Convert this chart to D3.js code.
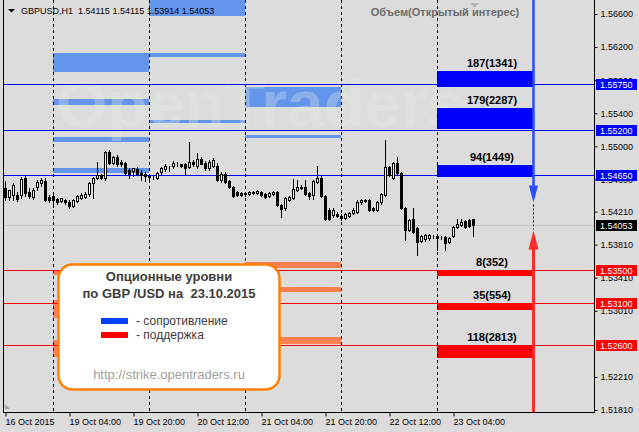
<!DOCTYPE html>
<html>
<head>
<meta charset="utf-8">
<script src="https://cdn.jsdelivr.net/npm/d3@7/dist/d3.min.js"></script>
<style>
body { margin: 0; background: #dcdcdc; }
svg { display: block; }
</style>
</head>
<body>
<div id="chart"></div>
<script>
// GBPUSD H1, bars from 16 Oct 2015 12:00 to 23 Oct 2015 09:00
var opens = [1.5450,1.5439,1.5441,1.5441,1.5441,1.5462,1.5445,1.5439,1.5451,1.5455,1.5458,1.5439,
  1.5440,1.5436,1.5434,1.5435,1.5433,1.5428,1.5434,1.5438,1.5439,1.5442,1.5456,1.5462,
  1.5465,1.5462,1.5493,1.5480,1.5487,1.5481,1.5480,1.5471,1.5470,1.5473,1.5468,1.5467,
  1.5464,1.5463,1.5462,1.5469,1.5473,1.5474,1.5476,1.5479,1.5478,1.5478,1.5475,1.5481,
  1.5476,1.5485,1.5480,1.5474,1.5476,1.5476,1.5459,1.5467,1.5458,1.5451,1.5445,1.5444,
  1.5442,1.5442,1.5444,1.5444,1.5445,1.5442,1.5440,1.5442,1.5445,1.5429,1.5425,1.5435,
  1.5438,1.5447,1.5450,1.5451,1.5444,1.5441,1.5457,1.5462,1.5440,1.5423,1.5417,1.5418,
  1.5416,1.5413,1.5416,1.5419,1.5421,1.5432,1.5434,1.5435,1.5425,1.5423,1.5432,1.5441,
  1.5475,1.5462,1.5480,1.5468,1.5425,1.5399,1.5412,1.5401,1.5386,1.5388,1.5389,1.5392,
  1.5392,1.5390,1.5390,1.5384,1.5392,1.5402,1.5405,1.5410,1.5411,1.54115];
var highs = [1.5458,1.5447,1.5456,1.5445,1.5463,1.5464,1.5450,1.5450,1.5459,1.5462,1.5462,1.5441,
  1.5441,1.5438,1.5438,1.5436,1.5435,1.5436,1.5441,1.5444,1.5445,1.5457,1.5463,1.5481,
  1.5467,1.5494,1.5496,1.5488,1.5490,1.5484,1.5481,1.5474,1.5474,1.5475,1.5471,1.5469,
  1.5467,1.5465,1.5469,1.5475,1.5478,1.5476,1.5482,1.5481,1.5479,1.5480,1.5505,1.5484,
  1.5492,1.5487,1.5482,1.5484,1.5486,1.5480,1.5469,1.5469,1.5459,1.5452,1.5446,1.5445,
  1.5445,1.5446,1.5446,1.5447,1.5446,1.5444,1.5445,1.5446,1.5446,1.5430,1.5439,1.5440,
  1.5461,1.5459,1.5453,1.5459,1.5445,1.5459,1.5476,1.5465,1.5441,1.5425,1.5425,1.5421,
  1.5418,1.5419,1.5421,1.5425,1.5435,1.5436,1.5436,1.5436,1.5427,1.5434,1.5444,1.5508,
  1.5476,1.5481,1.5487,1.5469,1.5427,1.5412,1.5425,1.5402,1.5393,1.5394,1.5394,1.5393,
  1.5394,1.5392,1.5392,1.5390,1.5404,1.5412,1.5412,1.5411,1.5412,1.54115];
var lows = [1.5435,1.5435,1.5435,1.5434,1.5438,1.5440,1.5438,1.5436,1.5447,1.5452,1.5434,1.5433,
  1.5427,1.5430,1.5432,1.5430,1.5425,1.5427,1.5432,1.5436,1.5438,1.5440,1.5438,1.5461,
  1.5461,1.5459,1.5479,1.5479,1.5476,1.5476,1.5465,1.5462,1.5464,1.5465,1.5459,1.5458,
  1.5459,1.5461,1.5461,1.5467,1.5470,1.5470,1.5474,1.5476,1.5475,1.5467,1.5474,1.5476,
  1.5474,1.5478,1.5471,1.5471,1.5475,1.5458,1.5457,1.5455,1.5450,1.5439,1.5440,1.5440,
  1.5440,1.5441,1.5442,1.5442,1.5440,1.5438,1.5439,1.5441,1.5428,1.5415,1.5423,1.5434,
  1.5436,1.5446,1.5448,1.5441,1.5436,1.5436,1.5456,1.5439,1.5411,1.5411,1.5415,1.5415,
  1.5411,1.5412,1.5415,1.5418,1.5419,1.5430,1.5433,1.5422,1.5422,1.5422,1.5430,1.5440,
  1.5464,1.5461,1.5467,1.5424,1.5387,1.5398,1.5395,1.5369,1.5384,1.5386,1.5387,1.5389,
  1.5375,1.5388,1.5375,1.5383,1.5390,1.5401,1.5404,1.5401,1.5402,1.53914];
var closes = [1.5439,1.5447,1.5453,1.5436,1.5461,1.5444,1.5440,1.5447,1.5457,1.5459,1.5435,1.5435,
  1.5435,1.5433,1.5438,1.5432,1.5428,1.5435,1.5440,1.5441,1.5442,1.5456,1.5462,1.5465,
  1.5462,1.5493,1.5480,1.5487,1.5478,1.5478,1.5468,1.5467,1.5474,1.5467,1.5465,1.5464,
  1.5463,1.5463,1.5468,1.5474,1.5476,1.5474,1.5480,1.5478,1.5476,1.5474,1.5481,1.5478,
  1.5485,1.5478,1.5474,1.5481,1.5484,1.5459,1.5467,1.5457,1.5451,1.5440,1.5441,1.5441,
  1.5444,1.5445,1.5445,1.5446,1.5441,1.5439,1.5444,1.5445,1.5429,1.5424,1.5438,1.5439,
  1.5448,1.5451,1.5451,1.5442,1.5440,1.5458,1.5462,1.5440,1.5412,1.5412,1.5423,1.5416,
  1.5413,1.5418,1.5419,1.5423,1.5433,1.5435,1.5435,1.5423,1.5423,1.5433,1.5442,1.5475,
  1.5465,1.5480,1.5468,1.5425,1.5399,1.5411,1.5396,1.5384,1.5392,1.5393,1.5393,1.5392,
  1.5389,1.5390,1.5383,1.5389,1.5402,1.5406,1.5409,1.5402,1.5404,1.54053];

var timeTicks = [0, 16, 32, 48, 64, 80, 96, 112];
var timeLabels = ["16 Oct 2015", "19 Oct 04:00", "19 Oct 20:00", "20 Oct 12:00",
  "21 Oct 04:00", "21 Oct 20:00", "22 Oct 12:00", "23 Oct 04:00"];
var daySeparators = [12, 36, 60, 84, 108];
var priceTicks = [1.566, 1.562, 1.558, 1.554, 1.550, 1.546, 1.5421, 1.5381, 1.5341, 1.5301, 1.5221, 1.5181];

// option levels for 23.10.2015
var resistLevels = [1.5575, 1.5520, 1.5465];
var resistLabels = ["187(1341)", "179(2287)", "94(1449)"];
var resistBars = [[1.5591, 1.5572], [1.5546, 1.5520], [1.5477, 1.5463]];
var supportLevels = [1.5350, 1.5310, 1.5260];
var supportLabels = ["8(352)", "35(554)", "118(2813)"];
var supportBars = [[1.5350, 1.5343], [1.5310, 1.5302], [1.5260, 1.5244]];
var lastPrice = 1.54053;
var arrowTips = [1.5432, 1.5398];

// levels of previous days: [first bar of day, high, low]
var oldResist = [[12, 1.5613, 1.5590], [12, 1.5557, 1.5550], [12, 1.5511, 1.5505], [12, 1.5474, 1.5468],
  [36, 1.5677, 1.5658], [36, 1.5613, 1.5608], [36, 1.5532, 1.5528],
  [60, 1.5572, 1.5548], [60, 1.5514, 1.5511]];
var oldSupport = [[12, 1.5350, 1.5344], [12, 1.5314, 1.5292], [12, 1.5266, 1.5246],
  [60, 1.5360, 1.5353], [60, 1.5330, 1.5324], [60, 1.5269, 1.5261]];

var W = 639, H = 432;
var svg = d3.select("#chart").append("svg")
    .attr("width", W).attr("height", H)
    .style("font-family", "'Liberation Sans', Arial, sans-serif");

svg.append("rect").attr("width", W).attr("height", H).attr("fill", "#dcdcdc");

// 4 px per hourly bar, price scale fitted to the axis ticks
var x = d3.scaleLinear().domain([0, 1]).range([5, 9]);
var y = d3.scaleLinear().domain([1.5181, 1.5660]).range([410, 14]);

svg.append("clipPath").attr("id", "plot")
  .append("rect").attr("x", 4).attr("y", 0).attr("width", 590).attr("height", 412);

var g = svg.append("g").attr("clip-path", "url(#plot)");

// old levels
g.selectAll(".oldR").data(oldResist).enter().append("rect")
    .attr("x", function(d) { return x(d[0]); })
    .attr("width", function(d) { return x(d[0] + 24) - x(d[0]); })
    .attr("y", function(d) { return Math.round(y(d[1])); })
    .attr("height", function(d) { return Math.max(3, Math.round(y(d[2]) - y(d[1]))); })
    .attr("fill", "#6495ed");
g.selectAll(".oldS").data(oldSupport).enter().append("rect")
    .attr("x", function(d) { return x(d[0]); })
    .attr("width", function(d) { return x(d[0] + 24) - x(d[0]); })
    .attr("y", function(d) { return Math.round(y(d[1])); })
    .attr("height", function(d) { return Math.max(3, Math.round(y(d[2]) - y(d[1]))); })
    .attr("fill", "#ff7f50");

// watermark
g.append("text").attr("x", 56).attr("y", 127)
    .attr("font-size", 66).attr("font-weight", "bold")
    .attr("fill", "#e4eee4").attr("opacity", 0.3)
    .text("OpenTraders");

// today's levels
var dayStart = 108;
g.selectAll(".curR").data(resistBars).enter().append("rect")
    .attr("x", x(dayStart)).attr("width", x(dayStart + 24) - x(dayStart))
    .attr("y", function(d) { return Math.round(y(d[0])); })
    .attr("height", function(d) { return Math.round(y(d[1]) - y(d[0])); })
    .attr("fill", "#0000ff");
g.selectAll(".curS").data(supportBars).enter().append("rect")
    .attr("x", x(dayStart)).attr("width", x(dayStart + 24) - x(dayStart))
    .attr("y", function(d) { return Math.round(y(d[0])); })
    .attr("height", function(d) { return Math.round(y(d[1]) - y(d[0])); })
    .attr("fill", "#ff0000");

// horizontal level lines
g.selectAll(".lr").data(resistLevels).enter().append("line")
    .attr("x1", 3).attr("x2", 594)
    .attr("y1", function(d) { return Math.round(y(d)) + 0.5; })
    .attr("y2", function(d) { return Math.round(y(d)) + 0.5; })
    .attr("stroke", "#0000ff");
g.selectAll(".ls").data(supportLevels).enter().append("line")
    .attr("x1", 3).attr("x2", 594)
    .attr("y1", function(d) { return Math.round(y(d)) + 0.5; })
    .attr("y2", function(d) { return Math.round(y(d)) + 0.5; })
    .attr("stroke", "#ff0000");

// day separators
g.selectAll(".sep").data(daySeparators).enter().append("line")
    .attr("x1", function(d) { return x(d) + 0.5; })
    .attr("x2", function(d) { return x(d) + 0.5; })
    .attr("y1", 0).attr("y2", 412)
    .attr("stroke", "#000").attr("stroke-dasharray", "3,3");

// bid line
g.append("line").attr("x1", 3).attr("x2", 594)
    .attr("y1", Math.round(y(lastPrice)) + 0.5).attr("y2", Math.round(y(lastPrice)) + 0.5)
    .attr("stroke", "#c0c0c0");

// candles
var bars = d3.range(opens.length);
var candle = g.selectAll(".candle").data(bars).enter().append("g");
candle.append("line")
    .attr("x1", function(i) { return x(i) + 0.5; })
    .attr("x2", function(i) { return x(i) + 0.5; })
    .attr("y1", function(i) { return Math.round(y(highs[i])); })
    .attr("y2", function(i) { return Math.round(y(lows[i])) + 1; })
    .attr("stroke", "#000");
candle.append("rect")
    .attr("x", function(i) { return x(i) - 0.5; })
    .attr("width", 2)
    .attr("y", function(i) { return Math.round(y(Math.max(opens[i], closes[i]))) + 0.5; })
    .attr("height", function(i) {
        return Math.round(y(Math.min(opens[i], closes[i]))) - Math.round(y(Math.max(opens[i], closes[i])));
    })
    .attr("fill", function(i) { return closes[i] >= opens[i] ? "#fff" : "#000"; })
    .attr("stroke", "#000");

// level captions
g.selectAll(".tr").data(resistBars).enter().append("text")
    .attr("x", 492).attr("y", function(d) { return Math.round(y(d[0])) - 4; })
    .attr("text-anchor", "middle").attr("font-size", 11).attr("font-weight", "bold")
    .text(function(d, i) { return resistLabels[i]; });
g.selectAll(".ts").data(supportBars).enter().append("text")
    .attr("x", 492).attr("y", function(d) { return Math.round(y(d[0])) - 4; })
    .attr("text-anchor", "middle").attr("font-size", 11).attr("font-weight", "bold")
    .text(function(d, i) { return supportLabels[i]; });

// arrows
var ax = x(dayStart + 24) + 0.5;
var blueTip = y(arrowTips[0]), redTip = y(arrowTips[1]);
g.append("line").attr("x1", ax).attr("x2", ax).attr("y1", 0).attr("y2", blueTip - 14)
    .attr("stroke", "#2a4dff").attr("stroke-width", 2.5);
g.append("path")
    .attr("d", "M" + (ax - 4.5) + "," + (blueTip - 17) + "L" + (ax + 4.5) + "," + (blueTip - 17) + "L" + ax + "," + blueTip + "Z")
    .attr("fill", "#2a4dff");
g.append("line").attr("x1", ax).attr("x2", ax).attr("y1", blueTip + 2).attr("y2", redTip - 1)
    .attr("stroke", "#000").attr("stroke-dasharray", "2,2");
g.append("line").attr("x1", ax).attr("x2", ax).attr("y1", redTip + 16).attr("y2", 413)
    .attr("stroke", "#ff2a2a").attr("stroke-width", 3);
g.append("path")
    .attr("d", "M" + (ax - 5) + "," + (redTip + 19) + "L" + (ax + 5) + "," + (redTip + 19) + "L" + ax + "," + redTip + "Z")
    .attr("fill", "#ff2a2a");

// frame
svg.append("line").attr("x1", 3.5).attr("x2", 3.5).attr("y1", 0).attr("y2", 413).attr("stroke", "#000");
svg.append("line").attr("x1", 594.5).attr("x2", 594.5).attr("y1", 0).attr("y2", 413).attr("stroke", "#000");
svg.append("line").attr("x1", 3).attr("x2", 595).attr("y1", 412.5).attr("y2", 412.5).attr("stroke", "#000");

// price axis
var yAxis = svg.append("g").attr("transform", "translate(594.5,0)")
    .call(d3.axisRight(y).tickValues(priceTicks).tickFormat(d3.format(".5f")).tickSize(3).tickPadding(3));
yAxis.select(".domain").remove();
yAxis.selectAll("text").attr("font-size", 9).attr("font-family", "'Liberation Sans', Arial, sans-serif").attr("fill", "#000");

// time axis
var xAxis = svg.append("g").attr("transform", "translate(0,412.5)")
    .call(d3.axisBottom(x).tickValues(timeTicks).tickFormat(function(d, i) { return timeLabels[i]; }).tickSize(4).tickPadding(2));
xAxis.select(".domain").remove();
xAxis.selectAll(".tick line").attr("transform", "translate(0.5,0)");
xAxis.selectAll("text").attr("text-anchor", "start").attr("font-size", 9)
    .attr("font-family", "'Liberation Sans', Arial, sans-serif").attr("fill", "#000");

// coloured price tags
function tag(price, color) {
    var cy = Math.round(y(price));
    svg.append("rect").attr("x", 596).attr("y", cy - 5).attr("width", 41).attr("height", 11).attr("fill", color);
    svg.append("text").attr("x", 600).attr("y", cy + 4).attr("font-size", 9).attr("fill", "#fff")
        .text(d3.format(".5f")(price));
}
resistLevels.forEach(function(p) { tag(p, "#0000ff"); });
supportLevels.forEach(function(p) { tag(p, "#ff0000"); });
tag(lastPrice, "#000");

// header
svg.append("path").attr("d", "M8,9L15,9L11.5,12.5Z").attr("fill", "#000");
svg.append("text").attr("x", 21).attr("y", 14).attr("font-size", 9).attr("fill", "#000")
    .style("white-space", "pre")
    .text("GBPUSD,H1  " + [opens[117], highs[117], lows[117], closes[117]].map(d3.format(".5f")).join(" "));
svg.append("text").attr("x", 445).attr("y", 15.5).attr("text-anchor", "middle")
    .attr("font-size", 11).attr("font-weight", "bold").attr("fill", "#6b6b6b")
    .text("Объем(Открытый интерес)");
svg.append("path").attr("d", "M470,3L479,3L474.5,7.5Z").attr("fill", "#b4b4b4");
svg.append("path").attr("d", "M5,404L5,409L10,409Z").attr("fill", "#a0a0a0");

// legend box
var lg = svg.append("g");
lg.append("rect").attr("x", 58.5).attr("y", 264.5).attr("width", 221).attr("height", 125).attr("rx", 14)
    .attr("fill", "#fff").attr("stroke", "#ff8000").attr("stroke-width", 2.5);
lg.append("text").attr("x", 169).attr("y", 281).attr("text-anchor", "middle")
    .attr("font-size", 13).attr("font-weight", "bold").attr("fill", "#3c3c3c").text("Опционные уровни");
lg.append("text").attr("x", 169).attr("y", 298).attr("text-anchor", "middle").style("white-space", "pre")
    .attr("font-size", 13).attr("font-weight", "bold").attr("fill", "#3c3c3c").text("по GBP /USD на  23.10.2015");
lg.append("rect").attr("x", 101).attr("y", 318).attr("width", 27).attr("height", 6).attr("fill", "#0040ff");
lg.append("rect").attr("x", 101).attr("y", 332).attr("width", 27).attr("height", 6).attr("fill", "#ff0000");
lg.append("text").attr("x", 136).attr("y", 325).attr("font-size", 12).attr("fill", "#3c3c3c").text("- сопротивление");
lg.append("text").attr("x", 136).attr("y", 339).attr("font-size", 12).attr("fill", "#3c3c3c").text("- поддержка");
lg.append("text").attr("x", 169).attr("y", 379).attr("text-anchor", "middle")
    .attr("font-size", 13).attr("fill", "#a0a0a0").text("http://strike.opentraders.ru");
</script>
</body>
</html>
